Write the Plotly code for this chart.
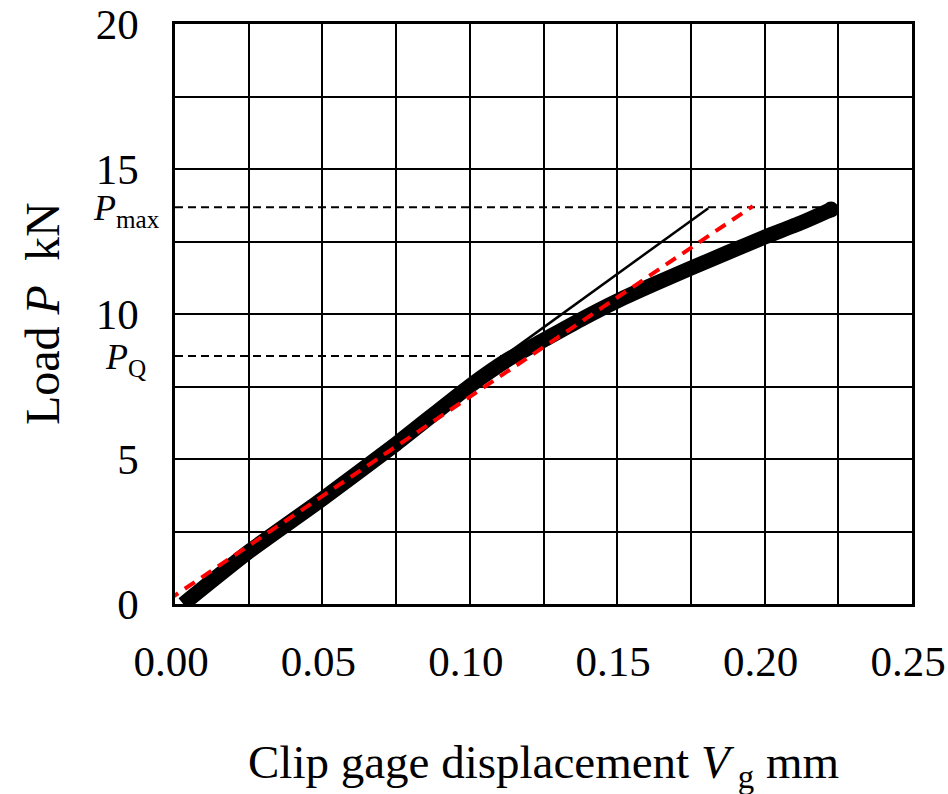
import plotly.graph_objects as go

disp_mm = [0.0028, 0.025, 0.05, 0.075, 0.10, 0.1125, 0.125, 0.1375, 0.15,
           0.1625, 0.175, 0.1875, 0.20, 0.2125, 0.2225]
load_kN = [0.0, 1.8, 3.62, 5.52, 7.52, 8.4, 9.1, 9.8, 10.45,
           11.03, 11.58, 12.12, 12.65, 13.15, 13.6]

# Initial elastic slope line
elastic_x = [0.095, 0.1809]
elastic_y = [7.33, 13.65]
# Secant line
secant_x = [-0.0023, 0.196]
secant_y = [0.14, 13.72]

P_max = 13.68
P_Q = 8.55
P_max_x_end = 0.2236
P_Q_x_end = 0.1137

x_ticks = [0, 0.05, 0.10, 0.15, 0.20, 0.25]
x_labels = ["0.00", "0.05", "0.10", "0.15", "0.20", "0.25"]
y_ticks = [0, 5, 10, 15, 20]
y_labels = ["0", "5", "10", "15", "20"]

FONT = "Liberation Serif, Times New Roman, serif"

fig = go.Figure()

fig.add_trace(go.Scatter(x=[0, P_max_x_end], y=[P_max, P_max], mode="lines",
                         line=dict(color="black", width=2, dash="8px,5px"),
                         showlegend=False, cliponaxis=False))
fig.add_trace(go.Scatter(x=[0, P_Q_x_end], y=[P_Q, P_Q], mode="lines",
                         line=dict(color="black", width=2, dash="8px,5px"),
                         showlegend=False, cliponaxis=False))
fig.add_trace(go.Scatter(x=disp_mm, y=load_kN, mode="lines",
                         line=dict(color="black", width=15, shape="spline", smoothing=0.6),
                         showlegend=False))
fig.add_trace(go.Scatter(x=[disp_mm[-1]], y=[load_kN[-1]], mode="markers",
                         marker=dict(color="black", size=16),
                         showlegend=False, cliponaxis=False))
fig.add_trace(go.Scatter(x=elastic_x, y=elastic_y, mode="lines",
                         line=dict(color="black", width=2.5),
                         showlegend=False))
fig.add_trace(go.Scatter(x=secant_x, y=secant_y, mode="lines",
                         line=dict(color="red", width=4, dash="12px,8px"),
                         showlegend=False, cliponaxis=False))

fig.add_annotation(x=0, xref="x", xshift=-13, yshift=-3, y=P_max, yref="y", xanchor="right",
                   yanchor="middle", showarrow=False,
                   text="<i>P</i><sub>max</sub>",
                   font=dict(family=FONT, size=36, color="black"))
fig.add_annotation(x=0, xref="x", xshift=-27, yshift=-3, y=P_Q, yref="y", xanchor="right",
                   yanchor="middle", showarrow=False,
                   text="<i>P</i><sub>Q</sub>",
                   font=dict(family=FONT, size=36, color="black"))

# Axis titles
fig.add_annotation(x=0.5, xref="paper", y=(604 - 765) / 580, yref="paper",
                   xanchor="center", yanchor="middle", showarrow=False,
                   text="Clip gage displacement <i>V</i><sub> g</sub> mm",
                   font=dict(family=FONT, size=47, color="black"))
fig.add_annotation(x=(42 - 175) / 737, xref="paper", y=0.5, yref="paper",
                   xanchor="center", yanchor="middle", showarrow=False, textangle=-90,
                   text="Load <i>P</i>  kN",
                   font=dict(family=FONT, size=48, color="black"))

grid = dict(showgrid=True, gridcolor="black", gridwidth=2)
fig.update_layout(
    width=948, height=794,
    margin=dict(l=175, r=36, t=24, b=190),
    paper_bgcolor="white", plot_bgcolor="white",
    font=dict(family=FONT, size=43, color="black"),
    xaxis=dict(range=[0, 0.25], tickvals=x_ticks, ticktext=x_labels,
               minor=dict(dtick=0.025, tick0=0, **grid), **grid,
               showline=True, linecolor="black", linewidth=2.5, mirror=True,
               ticks="", ticklabelstandoff=18, ticklabelshift=-4, zeroline=False,
               automargin=False, ticklabeloverflow="allow"),
    yaxis=dict(range=[0, 20], tickvals=y_ticks, ticktext=y_labels,
               minor=dict(dtick=2.5, tick0=0, **grid), **grid,
               showline=True, linecolor="black", linewidth=2.5, mirror=True,
               ticks="", ticklabelstandoff=25, zeroline=False,
               automargin=False, ticklabeloverflow="allow"),
)

fig.write_html("out.html")
